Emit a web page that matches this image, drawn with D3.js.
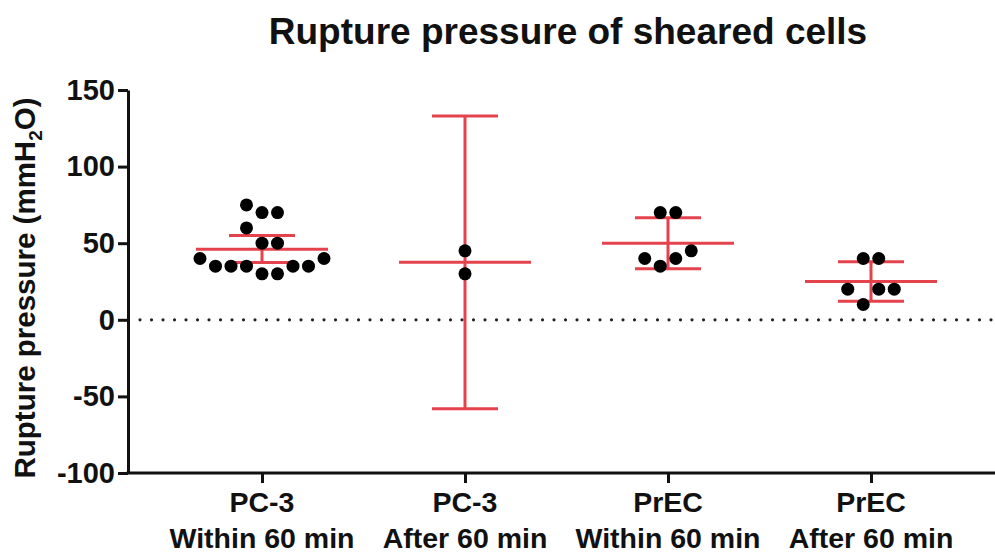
<!DOCTYPE html>
<html>
<head>
<meta charset="utf-8">
<script src="https://cdn.jsdelivr.net/npm/d3@7"></script>
<style>
  body { margin: 0; background: #fff; }
  text { font-family: "Liberation Sans", Arial, sans-serif; font-weight: bold; fill: #111; }
</style>
</head>
<body>
<svg id="chart" width="995" height="556"></svg>
<script>
// groups (two-line labels)
var groups = ["PC-3|Within 60 min", "PC-3|After 60 min", "PrEC|Within 60 min", "PrEC|After 60 min"];

// individual measurements, mmH2O
var pc3Within = [75, 70, 70, 60, 50, 50, 40, 40, 35, 35, 35, 35, 35, 30, 30];
var pc3After = [45, 30];
var precWithin = [70, 70, 45, 40, 40, 35];
var precAfter = [40, 40, 20, 20, 20, 10];

// mean and 95% CI as drawn
var means = [46, 37.5, 50, 25];
var ciHigh = [55, 133, 66.6, 37.9];
var ciLow = [37.4, -58, 33.4, 12.1];

var yTicks = [-100, -50, 0, 50, 100, 150];

var allPoints = [pc3Within, pc3After, precWithin, precAfter];

var svg = d3.select("#chart");
var red = "#e4434e";

var x = d3.scalePoint().domain(groups).range([262, 871]);
var y = d3.scaleLinear().domain([-100, 150]).range([473, 90]);

// title
svg.append("text")
	.attr("x", 568).attr("y", 44)
	.attr("text-anchor", "middle")
	.attr("font-size", "37px")
	.text("Rupture pressure of sheared cells");

// y label
var yl = svg.append("text")
	.attr("transform", "translate(35,288) rotate(-90)")
	.attr("text-anchor", "middle")
	.attr("font-size", "29.5px");
yl.append("tspan").text("Rupture pressure (mmH");
yl.append("tspan").attr("font-size", "19px").attr("dy", 7).text("2");
yl.append("tspan").attr("dy", -7).text("O)");

// zero line
svg.append("line")
	.attr("x1", 140).attr("x2", 995)
	.attr("y1", y(0)).attr("y2", y(0))
	.attr("stroke", "#222")
	.attr("stroke-width", 3.2)
	.attr("stroke-linecap", "round")
	.attr("stroke-dasharray", "0 11.5");

// y axis
var ya = svg.append("g")
	.attr("transform", "translate(128,0)")
	.call(d3.axisLeft(y).tickValues(yTicks).tickSize(10).tickSizeOuter(0).tickPadding(3)
		.tickFormat(function(d) { return String(d); }));
ya.select(".domain").attr("stroke", "#111").attr("stroke-width", 3);
ya.selectAll(".tick line").attr("stroke", "#111").attr("stroke-width", 3);
ya.selectAll(".tick text")
	.attr("font-size", "29px")
	.attr("font-family", "Liberation Sans, Arial, sans-serif")
	.attr("fill", "#111");

// x axis
var xa = svg.append("g")
	.attr("transform", "translate(0," + y(-100) + ")")
	.call(d3.axisBottom(x).tickSize(10).tickFormat(""));
xa.select(".domain").remove();
xa.selectAll(".tick line").attr("stroke", "#111").attr("stroke-width", 3);
xa.append("line")
	.attr("x1", 126.5).attr("x2", 995)
	.attr("stroke", "#111").attr("stroke-width", 3);

var labels = svg.append("g").selectAll("text")
	.data(groups)
	.enter()
	.append("text")
	.attr("text-anchor", "middle")
	.attr("font-size", "28.5px")
	.attr("x", function(d) { return x(d); })
	.attr("y", 512);
labels.append("tspan").text(function(d) { return d.split("|")[0]; });
labels.append("tspan")
	.attr("x", function(d) { return x(d); })
	.attr("dy", 36)
	.text(function(d) { return d.split("|")[1]; });

// column scatter layout: close values share a row, spread about the centre
function swarm(vals) {
	var sorted = vals.slice().sort(d3.ascending);
	var rows = [], cur = null;
	sorted.forEach(function(v) {
		if (cur && v - cur[0] <= 12) cur.push(v);
		else { cur = [v]; rows.push(cur); }
	});
	var out = [];
	rows.forEach(function(row) {
		var n = row.length;
		var order = [];
		if (n % 2) {
			order.push(0);
			for (var i = 1; order.length < n; i++) { order.push(i); order.push(-i); }
		} else {
			for (var j = 0; order.length < n; j++) { order.push(-j - 0.5); order.push(j + 0.5); }
		}
		row.forEach(function(v, i) { out.push({v: v, k: order[i]}); });
	});
	return out;
}

var gap = 15.5;

// error bars
var eb = svg.append("g").selectAll("g")
	.data(groups)
	.enter()
	.append("g")
	.attr("stroke", red)
	.attr("stroke-width", 3);
eb.append("line")
	.attr("x1", function(d) { return x(d); }).attr("x2", function(d) { return x(d); })
	.attr("y1", function(d, i) { return y(ciHigh[i]); })
	.attr("y2", function(d, i) { return y(ciLow[i]); });
eb.append("line")
	.attr("x1", function(d) { return x(d) - 33; }).attr("x2", function(d) { return x(d) + 33; })
	.attr("y1", function(d, i) { return y(ciHigh[i]); })
	.attr("y2", function(d, i) { return y(ciHigh[i]); });
eb.append("line")
	.attr("x1", function(d) { return x(d) - 33; }).attr("x2", function(d) { return x(d) + 33; })
	.attr("y1", function(d, i) { return y(ciLow[i]); })
	.attr("y2", function(d, i) { return y(ciLow[i]); });
eb.append("line")
	.attr("x1", function(d) { return x(d) - 66; }).attr("x2", function(d) { return x(d) + 66; })
	.attr("y1", function(d, i) { return y(means[i]); })
	.attr("y2", function(d, i) { return y(means[i]); });

// dots
groups.forEach(function(gname, gi) {
	svg.append("g").selectAll("circle")
		.data(swarm(allPoints[gi]))
		.enter()
		.append("circle")
		.attr("cx", function(d) { return x(gname) + d.k * gap; })
		.attr("cy", function(d) { return y(d.v); })
		.attr("r", 6.5)
		.attr("fill", "#000");
});
</script>
</body>
</html>
